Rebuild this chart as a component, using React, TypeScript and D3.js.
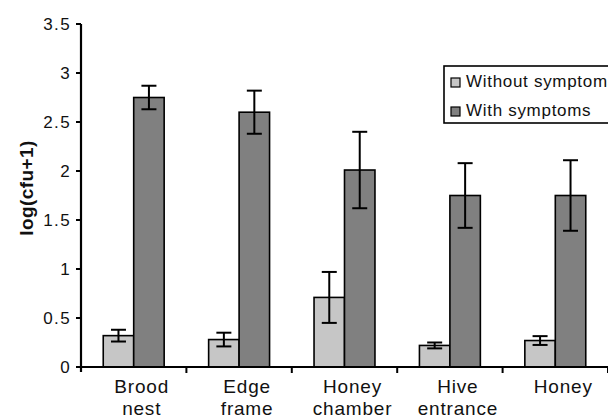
import { scaleBand, scaleLinear, range } from "d3";

const categories = [["Brood", "nest"], ["Edge", "frame"], ["Honey", "chamber"], ["Hive", "entrance"], ["Honey"]];
const seriesNames = ["Without symptoms", "With symptoms"];
const withoutSymptoms = [0.32, 0.28, 0.71, 0.22, 0.27];
const withoutErr = [0.06, 0.07, 0.26, 0.03, 0.045];
const withSymptoms = [2.75, 2.6, 2.01, 1.75, 1.75];
const withErr = [0.12, 0.22, 0.39, 0.33, 0.36];
const yTicks = [0, 0.5, 1, 1.5, 2, 2.5, 3, 3.5];

const W = 608;
const H = 418;
const FONT = "'Liberation Sans', Arial, sans-serif";
const fills = ["#c6c6c6", "#808080"];

export default function App() {
  const x0 = 81;
  const y = scaleLinear().domain([0, 3.5]).range([367, 24]);
  const keys = categories.map((c) => c.join(" "));
  const x = scaleBand<string>().domain(keys).range([x0, 608]).padding(0);
  const xs = scaleBand<number>().domain([0, 1]).range([0, x.bandwidth()]).paddingInner(0).paddingOuter(0.73);
  const values = [withoutSymptoms, withSymptoms];
  const errs = [withoutErr, withErr];
  const cap = 7.5;

  return (
    <svg width={W} height={H} style={{ position: "absolute", left: 0, top: 0, background: "#fff" }} fontFamily={FONT}>
      {/* bars */}
      {keys.map((k, i) => (
        <g key={k} transform={`translate(${x(k)},0)`}>
          {[0, 1].map((s) => {
            const v = values[s][i];
            const e = errs[s][i];
            const bx = xs(s) ?? 0;
            const cx = bx + xs.bandwidth() / 2;
            return (
              <g key={s}>
                <rect x={bx} y={y(v)} width={xs.bandwidth()} height={y(0) - y(v)} fill={fills[s]} stroke="#000" strokeWidth={1.6} />
                <g stroke="#000" strokeWidth={2}>
                  <line x1={cx} x2={cx} y1={y(v + e)} y2={y(v - e)} />
                  <line x1={cx - cap} x2={cx + cap} y1={y(v + e)} y2={y(v + e)} />
                  <line x1={cx - cap} x2={cx + cap} y1={y(v - e)} y2={y(v - e)} />
                </g>
              </g>
            );
          })}
        </g>
      ))}

      {/* y axis */}
      <line x1={x0} x2={x0} y1={y(3.5)} y2={y(0) + 5} stroke="#000" strokeWidth={2.2} />
      {yTicks.map((t) => (
        <g key={t}>
          <line x1={x0 - 5} x2={x0} y1={y(t)} y2={y(t)} stroke="#000" strokeWidth={2} />
          <text x={x0 - 10} y={y(t)} dy="0.36em" textAnchor="end" fontSize={17} letterSpacing={1.4} fill="#111">
            {t}
          </text>
        </g>
      ))}
      <text
        transform={`translate(33,${188}) rotate(-90)`}
        textAnchor="middle"
        fontSize={19}
        fontWeight="bold"
        letterSpacing={0.4}
        fill="#111"
      >
        log(cfu+1)
      </text>

      {/* x axis */}
      <line x1={x0 - 5} x2={608} y1={y(0)} y2={y(0)} stroke="#000" strokeWidth={2.2} />
      {range(1, keys.length + 1).map((i) => {
        const px = x0 + i * x.step();
        return <line key={i} x1={px} x2={px} y1={y(0)} y2={y(0) + 6} stroke="#000" strokeWidth={2} />;
      })}
      {categories.map((c, i) => (
        <text key={i} textAnchor="middle" fontSize={19} letterSpacing={0.8} fill="#111">
          {c.map((line, j) => (
            <tspan key={j} x={(x(keys[i]) ?? 0) + x.bandwidth() / 2 + 8} y={393 + j * 22}>
              {line}
            </tspan>
          ))}
        </text>
      ))}

      {/* legend */}
      <g>
        <rect x={444} y={66} width={200} height={57} fill="#fff" stroke="#000" strokeWidth={1.6} />
        {seriesNames.map((n, i) => (
          <g key={n} transform={`translate(451,${78 + i * 29})`}>
            <rect x={0} y={0} width={9} height={9} fill={fills[i]} stroke="#000" strokeWidth={1.2} />
            <text x={15} y={9} fontSize={17} letterSpacing={0.7} fill="#111">
              {n}
            </text>
          </g>
        ))}
      </g>
    </svg>
  );
}
